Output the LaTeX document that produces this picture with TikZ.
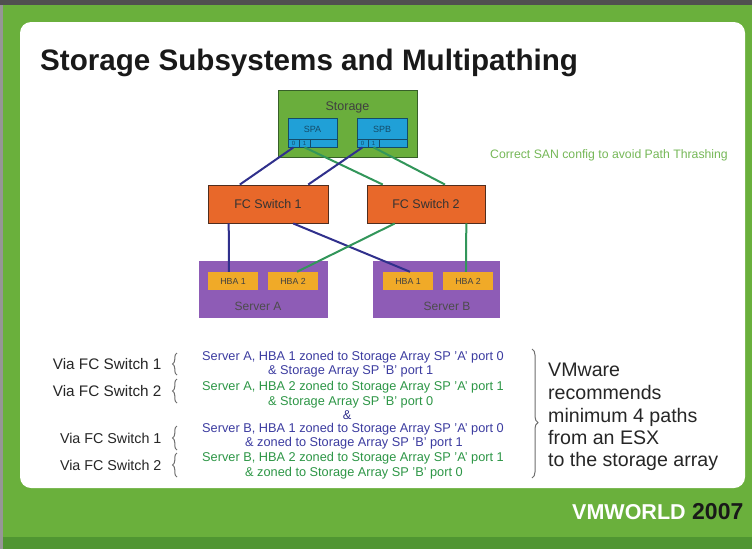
\documentclass[tikz,border=0pt]{standalone}
\usepackage{fontspec}
\setmainfont{Liberation Sans}
\usetikzlibrary{calc,decorations.pathreplacing}

\definecolor{slidegreen}{RGB}{106,176,60}
\definecolor{slidegreendark}{RGB}{80,150,50}
\definecolor{framegray}{RGB}{80,80,80}
\definecolor{storagegreen}{RGB}{106,174,60}
\definecolor{storageedge}{RGB}{55,95,40}
\definecolor{spblue}{RGB}{32,160,215}
\definecolor{spedge}{RGB}{20,75,105}
\definecolor{switchorange}{RGB}{232,104,42}
\definecolor{switchedge}{RGB}{80,45,30}
\definecolor{serverpurple}{RGB}{142,92,182}
\definecolor{hbayellow}{RGB}{240,170,40}
\definecolor{pathblue}{RGB}{48,48,140}
\definecolor{pathgreen}{RGB}{50,150,90}
\definecolor{noteblue}{RGB}{60,60,160}
\definecolor{notegreen}{RGB}{45,150,70}
\definecolor{hintgreen}{RGB}{118,184,88}
\definecolor{bracegray}{RGB}{110,110,110}

\tikzset{
  box/.style={draw, line width=0.9pt, inner sep=0pt, rectangle},
  storagebox/.style={box, fill=storagegreen, draw=storageedge},
  spbox/.style={box, fill=spblue, draw=spedge, line width=0.8pt},
  portbox/.style={box, fill=spblue, draw=spedge, line width=0.7pt, minimum height=8pt,
    font=\fontsize{6}{6}\selectfont, text=spedge},
  switchbox/.style={box, fill=switchorange, draw=switchedge, minimum width=120pt, minimum height=38pt,
    font=\fontsize{12.5}{14}\selectfont, text=black!80},
  serverbox/.style={rectangle, fill=serverpurple, inner sep=0pt, minimum height=57pt},
  hbabox/.style={rectangle, fill=hbayellow, inner sep=0pt, minimum width=50pt, minimum height=18pt,
    font=\fontsize{8.8}{10}\selectfont, text=black!75},
  bluepath/.style={draw=pathblue, line width=2pt},
  greenpath/.style={draw=pathgreen, line width=2pt},
  vialabel/.style={anchor=east, text=black!85},
  zoneblue/.style={anchor=west, text=noteblue, font=\fontsize{12.75}{14}\selectfont, inner sep=0pt},
  zonegreen/.style={anchor=west, text=notegreen, font=\fontsize{12.75}{14}\selectfont, inner sep=0pt},
  advice/.style={anchor=base west, text=black!85, font=\fontsize{19.6}{22}\selectfont, inner sep=0pt},
  bracestyle/.style={draw=bracegray, line width=1pt, decorate},
}

\begin{document}
\begin{tikzpicture}[x=1pt,y=-1pt]
\useasboundingbox (0,0) rectangle (752,549);

% slide frame
\fill[slidegreen] (0,0) rectangle (752,549);
\fill[slidegreendark] (0,537) rectangle (752,549);
\fill[framegray] (0,0) rectangle (752,5);
\fill[framegray!60] (0,5) rectangle (2.5,549);
\fill[white, rounded corners=11pt] (20,22) rectangle (745,488);

% title
\node[anchor=base west, inner sep=0pt, font=\fontsize{29.6}{32}\selectfont\bfseries, text=black!90]
  (title) at (40,70) {Storage Subsystems and Multipathing};

% storage array with its two service processors
\node[storagebox, minimum width=139pt, minimum height=67pt] (storage) at (347.5,123.5) {};
\node[font=\fontsize{12.5}{14}\selectfont, text=black!75] (storagelbl) at (347.5,107) {Storage};

\node[spbox, minimum width=49pt, minimum height=29pt] (spa) at (312.5,132.5) {};
\node[font=\fontsize{9}{10}\selectfont, text=spedge] (spalbl) at (312.5,129) {SPA};
\node[portbox, minimum width=11pt] (spa0) at (293.5,143) {0};
\node[portbox, minimum width=11pt] (spa1) at (304.5,143) {1};
\node[portbox, minimum width=27pt] (spax) at (323.5,143) {};

\node[spbox, minimum width=50pt, minimum height=29pt] (spb) at (382,132.5) {};
\node[font=\fontsize{9}{10}\selectfont, text=spedge] (spblbl) at (382,129) {SPB};
\node[portbox, minimum width=11pt] (spb0) at (362.5,143) {0};
\node[portbox, minimum width=11pt] (spb1) at (373.5,143) {1};
\node[portbox, minimum width=28pt] (spbx) at (393,143) {};

% fibre channel switches
\node[switchbox] (sw1) at (268,204) {FC Switch 1};
\node[switchbox, minimum width=118pt] (sw2) at (426,204) {FC Switch 2};

% servers with their host bus adapters
\node[serverbox, minimum width=129pt] (srva) at (263.5,289.5) {};
\node[serverbox, minimum width=127pt] (srvb) at (436.5,289.5) {};
\node[font=\fontsize{12}{14}\selectfont, text=black!70] (srvalbl) at (258,306) {Server A};
\node[font=\fontsize{12}{14}\selectfont, text=black!70] (srvblbl) at (447,306) {Server B};
\node[hbabox] (a1) at (233,281) {HBA 1};
\node[hbabox] (a2) at (293,281) {HBA 2};
\node[hbabox] (b1) at (408,281) {HBA 1};
\node[hbabox] (b2) at (468,281) {HBA 2};

% storage to switch paths
\draw[bluepath] (spa0.south) -- ($(sw1.north west)!0.267!(sw1.north east)$);
\draw[greenpath] (spa1.south) -- ($(sw2.north west)!0.136!(sw2.north east)$);
\draw[bluepath] (spb0.south) -- ($(sw1.north west)!0.833!(sw1.north east)$);
\draw[greenpath] (spb1.south) -- ($(sw2.north west)!0.66!(sw2.north east)$);

% switch to host paths
\draw[bluepath] ($(sw1.south west)!0.175!(sw1.south east)$) -- ($(a1.north west)!0.42!(a1.north east)$);
\draw[bluepath] ($(sw1.south west)!0.708!(sw1.south east)$) -- ($(b1.north west)!0.54!(b1.north east)$);
\draw[greenpath] ($(sw2.south west)!0.237!(sw2.south east)$) -- ($(a2.north west)!0.58!(a2.north east)$);
\draw[greenpath] ($(sw2.south west)!0.839!(sw2.south east)$) -- ($(b2.north west)!0.46!(b2.north east)$);

% side note
\node[anchor=west, inner sep=0pt, text=hintgreen, font=\fontsize{12.25}{13}\selectfont]
  (hint) at (490,155) {Correct SAN config to avoid Path Thrashing};

% zoning list
\node[vialabel, font=\fontsize{15.3}{17}\selectfont] (via1) at (165,364) {Via FC Switch 1};
\node[vialabel, font=\fontsize{15.3}{17}\selectfont] (via2) at (165,391) {Via FC Switch 2};
\node[vialabel, font=\fontsize{14.3}{16}\selectfont] (via3) at (165,438) {Via FC Switch 1};
\node[vialabel, font=\fontsize{14.3}{16}\selectfont] (via4) at (165,465) {Via FC Switch 2};

\draw[bracestyle, decoration={brace, amplitude=4.5pt}] (177,375) -- (177,353);
\draw[bracestyle, decoration={brace, amplitude=4.5pt}] (177,403) -- (177,379);
\draw[bracestyle, decoration={brace, amplitude=4.5pt}] (177,450) -- (177,426);
\draw[bracestyle, decoration={brace, amplitude=4.5pt}] (177,477) -- (177,453);

\node[zoneblue] (z1a) at (202,357) {Server A, HBA 1 zoned to Storage Array SP 'A' port 0};
\node[zoneblue] (z1b) at (268,371.5) {\& Storage Array SP 'B' port 1};
\node[zonegreen] (z2a) at (202,387.5) {Server A, HBA 2 zoned to Storage Array SP 'A' port 1};
\node[zonegreen] (z2b) at (268,402.5) {\& Storage Array SP 'B' port 0};
\node[zoneblue, anchor=center, text=pathblue] (amp) at (347,415) {\&};
\node[zoneblue] (z3a) at (202,429.5) {Server B, HBA 1 zoned to Storage Array SP 'A' port 0};
\node[zoneblue] (z3b) at (245,443.5) {\& zoned to Storage Array SP 'B' port 1};
\node[zonegreen] (z4a) at (202,458.5) {Server B, HBA 2 zoned to Storage Array SP 'A' port 1};
\node[zonegreen] (z4b) at (245,473.5) {\& zoned to Storage Array SP 'B' port 0};

\draw[bracestyle, decoration={brace, amplitude=6pt, aspect=0.57}] (532,349) -- (532,478);

\node[advice] (adv1) at (548,376) {VMware};
\node[advice] (adv2) at (548,399) {recommends};
\node[advice] (adv3) at (548,422) {minimum 4 paths};
\node[advice] (adv4) at (548,444) {from an ESX};
\node[advice] (adv5) at (548,466) {to the storage array};

% footer
\node[anchor=west, inner sep=0pt, text=white, font=\fontsize{21.5}{24}\selectfont\bfseries] (vmw) at (572,512) {VMWORLD};
\node[anchor=west, inner sep=0pt, text=black!90, font=\fontsize{23}{26}\selectfont\bfseries] (year) at (692,512) {2007};

\end{tikzpicture}
\end{document}
